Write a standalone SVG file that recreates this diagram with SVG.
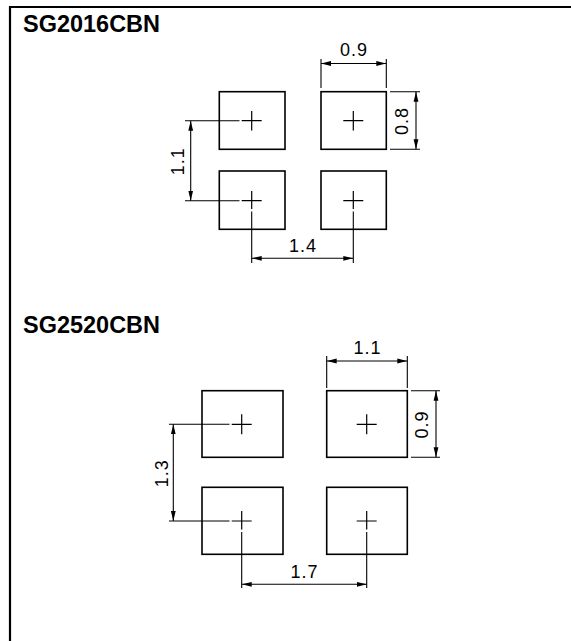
<svg xmlns="http://www.w3.org/2000/svg" width="571" height="641" viewBox="0 0 571 641">
<style>
.title{font-family:"Liberation Sans",Arial,sans-serif;font-weight:bold;font-size:23px;fill:#000}
.dim{font-family:"Liberation Sans",Arial,sans-serif;font-size:18px;letter-spacing:1px;fill:#000;text-anchor:middle}
.pad{fill:none;stroke:#000;stroke-width:1.6}
.cross{fill:none;stroke:#000;stroke-width:1.2}
.ext{fill:none;stroke:#000;stroke-width:1.1}
.dl{fill:none;stroke:#000;stroke-width:1.1;marker-start:url(#arr);marker-end:url(#arr)}
</style>
<defs>
<marker id="arr" viewBox="0 0 10 6" refX="10" refY="3" markerWidth="10" markerHeight="6" markerUnits="userSpaceOnUse" orient="auto-start-reverse">
<path d="M0,0.6 L10,3 L0,5.4 Z" fill="#000"/>
</marker>
</defs>
<rect width="571" height="641" fill="#fff"/>
<g id="frame">
<line x1="10" y1="7" x2="571" y2="7" stroke="#000" stroke-width="2.2"/>
<line x1="10" y1="6" x2="10" y2="641" stroke="#000" stroke-width="2.2"/>
</g>

<g id="sg2016cbn">
<text class="title" x="23" y="31.5" textLength="137" lengthAdjust="spacingAndGlyphs">SG2016CBN</text>
<g id="pad1-tl"><rect class="pad" x="219.3" y="91.7" width="65.7" height="57.6"/><path class="cross" d="M241.7,120.7H261.7M251.7,111V130.5"/></g>
<g id="pad1-tr"><rect class="pad" x="321" y="91.7" width="65.3" height="57.6"/><path class="cross" d="M343.3,120.7H363.3M353.3,111V130.5"/></g>
<g id="pad1-bl"><rect class="pad" x="219.3" y="171" width="65.7" height="58.3"/><path class="cross" d="M241.7,200.7H261.7M251.7,191V209"/></g>
<g id="pad1-br"><rect class="pad" x="321" y="171" width="65.3" height="58.3"/><path class="cross" d="M343.3,200.7H363.3M353.3,191V209"/></g>
</g>

<g id="sg2520cbn">
<text class="title" x="23" y="333" textLength="137" lengthAdjust="spacingAndGlyphs">SG2520CBN</text>
<g id="pad2-tl"><rect class="pad" x="202" y="390.7" width="81" height="66.6"/><path class="cross" d="M231.7,424.3H251.7M241.7,414.3V434.3"/></g>
<g id="pad2-tr"><rect class="pad" x="326.7" y="390.7" width="80.6" height="66.6"/><path class="cross" d="M356.7,424.3H376.7M366.7,414.3V434.3"/></g>
<g id="pad2-bl"><rect class="pad" x="202" y="487.3" width="81" height="67"/><path class="cross" d="M231.7,521H251.7M241.7,511V529.5"/></g>
<g id="pad2-br"><rect class="pad" x="326.7" y="487.3" width="80.6" height="67"/><path class="cross" d="M356.7,521H376.7M366.7,511V529.5"/></g>
</g>

<g id="connectors">
<path class="ext" d="M321,59V88M386.3,59V88"/>
<line class="dl" x1="321" y1="63.5" x2="386.3" y2="63.5"/>
<text class="dim" x="354.1" y="56">0.9</text>
<path class="ext" d="M390,91.7H420M390,149.3H420"/>
<line class="dl" x1="416" y1="91.7" x2="416" y2="149.3"/>
<text class="dim" transform="translate(407.5,121) rotate(-90)">0.8</text>
<path class="ext" d="M185,120.7H239.5M185,200.7H239.5"/>
<line class="dl" x1="190.7" y1="120.7" x2="190.7" y2="200.7"/>
<text class="dim" transform="translate(183.5,161.2) rotate(-90)">1.1</text>
<path class="ext" d="M251.7,211.5V263M353.3,211.5V263"/>
<line class="dl" x1="251.7" y1="258.3" x2="353.3" y2="258.3"/>
<text class="dim" x="303" y="251.7">1.4</text>

<path class="ext" d="M326.7,356V388M407.3,356V388"/>
<line class="dl" x1="326.7" y1="361" x2="407.3" y2="361"/>
<text class="dim" x="367.5" y="354">1.1</text>
<path class="ext" d="M411,390.7H440M411,457.3H440"/>
<line class="dl" x1="436" y1="390.7" x2="436" y2="457.3"/>
<text class="dim" transform="translate(427.5,424.5) rotate(-90)">0.9</text>
<path class="ext" d="M169,424.3H229.5M169,521H229.5"/>
<line class="dl" x1="173.3" y1="424.3" x2="173.3" y2="521"/>
<text class="dim" transform="translate(167.5,473.2) rotate(-90)">1.3</text>
<path class="ext" d="M241.7,532V588M366.7,532V588"/>
<line class="dl" x1="241.7" y1="584.3" x2="366.7" y2="584.3"/>
<text class="dim" x="304.5" y="577.7">1.7</text>
</g>
</svg>
